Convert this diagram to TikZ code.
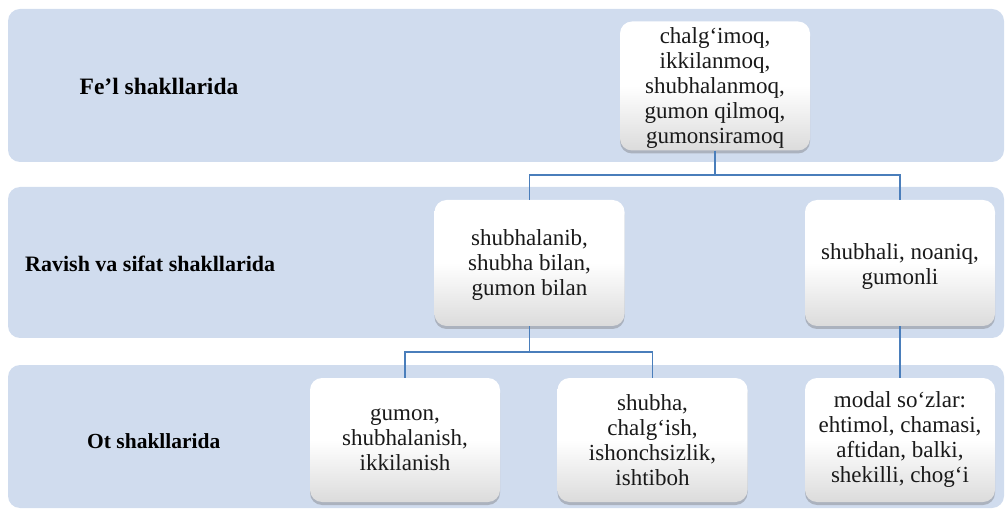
\documentclass[tikz,border=0pt]{standalone}
\usepackage{fontspec}
\setmainfont{Liberation Serif}
\newfontfamily\tnr{Liberation Serif}
\usetikzlibrary{shadows}
\definecolor{bandcol}{RGB}{208,220,238}
\definecolor{conncol}{RGB}{74,126,187}
\newcommand\bxtext[2]{\raisebox{#1}[\height][\depth]{\begin{tabular}{@{}c@{}}#2\end{tabular}}}
\begin{document}
\begin{tikzpicture}[x=1pt,y=-1pt,
  bandbox/.style={fill=bandcol, rounded corners=12pt, draw=none, inner sep=0pt, minimum width=996pt},
  wbox/.style={rounded corners=12pt, top color=white, bottom color=black!14, middle color=white, draw=none,
    minimum width=190pt, align=center, inner sep=2pt, font=\tnr\fontsize{23}{25}\selectfont, text=black!90,
    drop shadow={shadow xshift=0pt, shadow yshift=-3pt, opacity=0.35, fill=black!60}},
  lab/.style={font=\tnr\bfseries, text=black},
  connline/.style={draw=conncol, line width=1.6pt}]
\useasboundingbox (0,0) rectangle (1006,510);
% bands
\node[bandbox, minimum height=153pt] (b1) at (506,85.5) {};
\node[bandbox, minimum height=151pt] (b2) at (506,262.5) {};
\node[bandbox, minimum height=143pt] (b3) at (506,436.5) {};
% labels
\node[lab, font=\tnr\bfseries\fontsize{23.5}{26}\selectfont] (l1) at (159,86) {Fe’l shakllarida};
\node[lab, font=\tnr\bfseries\fontsize{22}{25}\selectfont, anchor=west, inner xsep=0pt] (l2) at (25,264) {Ravish va sifat shakllarida};
\node[lab, font=\tnr\bfseries\fontsize{21.5}{25}\selectfont, anchor=west, inner xsep=0pt] (l3) at (87,441) {Ot shakllarida};
% junctions
\coordinate (j1) at (715,175);
\coordinate (j2) at (529.5,352);
% boxes
\node[wbox, minimum height=128pt] (top) at (715,86) {\bxtext{-3pt}{chalg‘imoq,\\ ikkilanmoq,\\ shubhalanmoq,\\ gumon qilmoq,\\ gumonsiramoq}};
\node[wbox, minimum height=126pt] (ml) at (529.5,263) {\bxtext{-3pt}{shubhalanib,\\ shubha bilan,\\ gumon bilan}};
\node[wbox, minimum height=126pt] (mr) at (900,263) {\bxtext{-4pt}{shubhali, noaniq,\\ gumonli}};
\node[wbox, minimum height=124pt] (bl) at (405,440) {gumon,\\ shubhalanish,\\ ikkilanish};
\node[wbox, minimum height=124pt] (bm) at (652.5,440) {shubha,\\ chalg‘ish,\\ ishonchsizlik,\\ ishtiboh};
\node[wbox, minimum height=124pt] (br) at (900,440) {modal so‘zlar:\\ ehtimol, chamasi,\\ aftidan, balki,\\ shekilli, chog‘i};
% connectors
\draw[connline] (top.south) -- (j1);
\draw[connline] (ml.north) |- (j1) -| (mr.north);
\draw[connline] (ml.south) -- (j2);
\draw[connline] (bl.north) |- (j2) -| (bm.north);
\draw[connline] (mr.south) -- (br.north);
\end{tikzpicture}
\end{document}
